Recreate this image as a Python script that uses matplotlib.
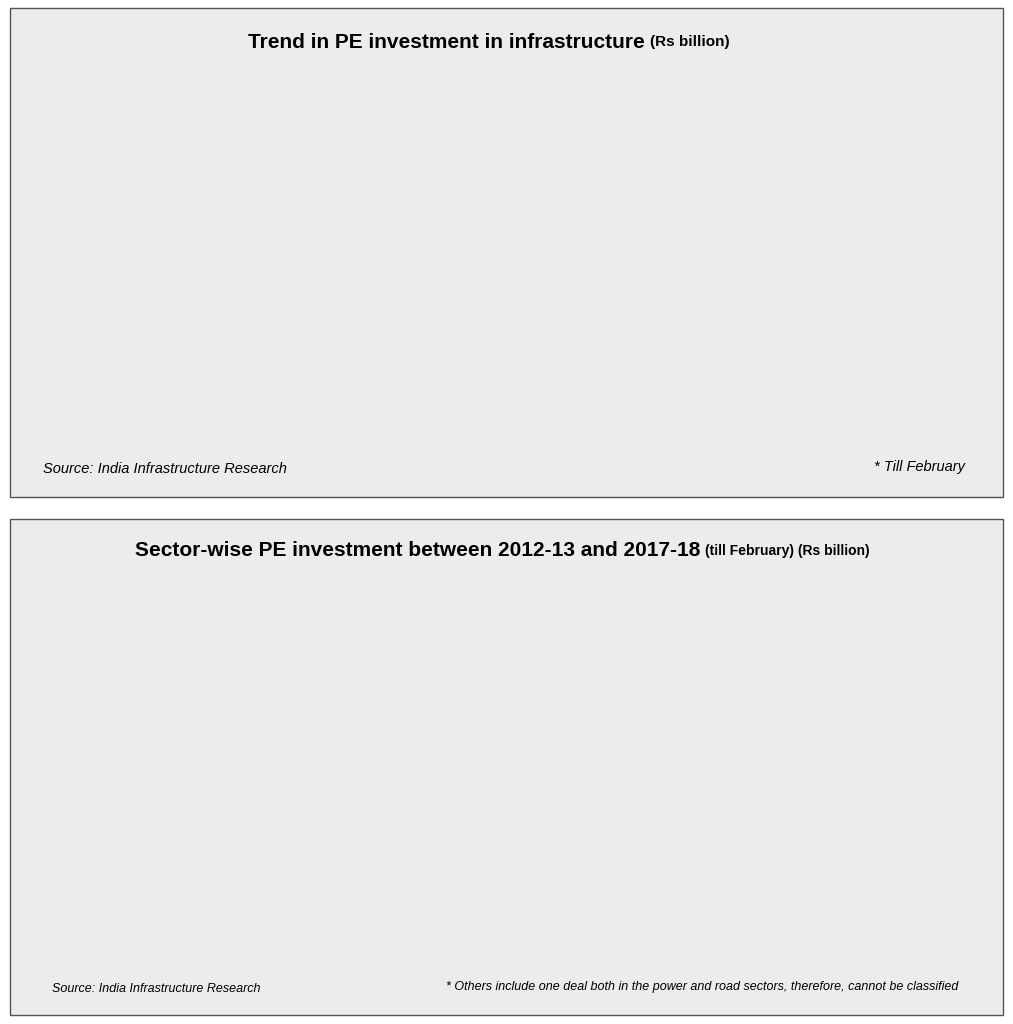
import matplotlib
matplotlib.use("Agg")
import matplotlib.pyplot as plt
from matplotlib.patches import Rectangle

years = ["2012-13", "2013-14", "2014-15", "2015-16", "2016-17", "2017-18*"]
year_values = [55.67, 114.33, 98.50, 281.17, 261.44, 180.42]

sectors = ["Aviation", "Diversified", "Infrastructure finance", "Logistics", "Oil and gas",
           "Ports and shipping", "Power", "Railways", "Renewable energy", "Roads",
           "Telecom", "Water and waste management", "Others*"]
sector_values = [21.49, 54.31, 13.08, 82.22, 33.39, 6.61, 29.09, 0.60, 325.32, 105.57,
                 314.08, 1.00, 4.77]
x_ticks = [0, 50, 100, 150, 200, 250, 300, 350]

W, H = 1013, 1024
BG = "#edebeb"
BAR = "#d4aa67"
plt.rcParams['font.family'] = ['Liberation Sans', 'DejaVu Sans']
fig = plt.figure(figsize=(W/100, H/100), dpi=100)
fig.patch.set_facecolor("white")

def px(x0, y0, x1, y1):
    return [x0/W, 1-y1/H, (x1-x0)/W, (y1-y0)/H]

for (x0, y0, x1, y1) in [(10, 8, 1003, 497), (10, 519, 1003, 1015)]:
    b = px(x0, y0, x1, y1)
    fig.patches.append(Rectangle((b[0], b[1]), b[2], b[3], transform=fig.transFigure,
                                 facecolor=BG, edgecolor="#555555", lw=1))

# Top chart
ax = fig.add_axes(px(43, 69, 965, 419))
ax.set_facecolor("none")
ax.bar(range(len(years)), year_values, width=0.41, color=BAR)
for i, v in enumerate(year_values):
    ax.text(i, v + 6, f"{v:.2f}", ha="center", va="bottom", fontsize=12)
ax.set_xlim(-0.5, len(years) - 0.5)
ax.set_ylim(0, 300)
ax.set_xticks(range(len(years)), years, fontsize=12)
ax.tick_params(axis="x", length=0, pad=8)
ax.set_yticks([])
for s in ["top", "right", "left"]:
    ax.spines[s].set_visible(False)
ax.spines["bottom"].set_color("#888888")
fig.text(645/W, 1-42/H, "Trend in PE investment in infrastructure", ha="right", va="center",
         fontsize=15, fontweight="bold")
fig.text(650/W, 1-42/H, "(Rs billion)", ha="left", va="center", fontsize=11, fontweight="bold")
fig.text(43/W, 1-469/H, "Source: India Infrastructure Research", fontsize=10.5, style="italic", va="center")
fig.text(965/W, 1-467/H, "* Till February", fontsize=10.5, style="italic", va="center", ha="right")

# Bottom chart
ax2 = fig.add_axes(px(226, 575, 940, 939))
ax2.set_facecolor("none")
ax2.barh(range(len(sectors)), sector_values, height=0.45, color=BAR)
for i, v in enumerate(sector_values):
    ax2.text(v + 4, i, f"{v:.2f}", va="center", ha="left", fontsize=10.5)
ax2.set_ylim(-0.5, len(sectors) - 0.5)
ax2.set_xlim(0, 350)
ax2.set_yticks(range(len(sectors)), sectors, fontsize=10.5)
ax2.set_xticks(x_ticks, [f"{t:.2f}" for t in x_ticks], fontsize=10.5)
ax2.tick_params(axis="y", length=0, pad=10)
ax2.tick_params(axis="x", length=4, color="#888888")
for s in ["top", "right", "bottom"]:
    ax2.spines[s].set_visible(False)
ax2.spines["left"].set_color("#888888")
fig.text(700/W, 1-551/H, "Sector-wise PE investment between 2012-13 and 2017-18", ha="right",
         va="center", fontsize=15, fontweight="bold")
fig.text(705/W, 1-551/H, "(till February) (Rs billion)", ha="left", va="center", fontsize=10, fontweight="bold")
fig.text(52/W, 1-989/H, "Source: India Infrastructure Research", fontsize=9, style="italic", va="center")
fig.text(958/W, 1-987/H, "* Others include one deal both in the power and road sectors, therefore, cannot be classified",
         fontsize=9, style="italic", va="center", ha="right")

fig.savefig("out.png", dpi=100, facecolor="white")
